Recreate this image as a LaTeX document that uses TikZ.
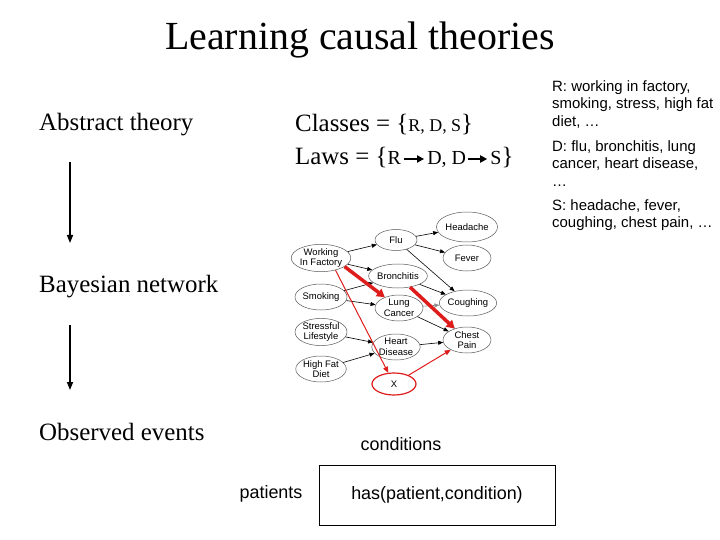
\documentclass[tikz,border=0pt]{standalone}
\usepackage{fontspec}
\setmainfont{Liberation Serif}
\setsansfont{Liberation Sans}
\usetikzlibrary{arrows.meta,shapes.geometric,positioning}
\definecolor{causered}{RGB}{222,28,28}
\newcommand{\smallcls}[1]{{\fontsize{18}{18}\selectfont #1}}
\newcommand{\lawcls}[1]{{\fontsize{20}{20}\selectfont #1}}

\begin{document}
\begin{tikzpicture}[x=1bp, y=-1bp,
	bn/.style={ellipse, draw=black!65, line width=0.5bp, minimum width=48bp, minimum height=26bp, inner sep=0pt, align=center, font=\sffamily\fontsize{9.5}{10.5}\selectfont},
	dep/.style={-{Triangle[length=5bp,width=4bp]}, line width=0.6bp},
	strong/.style={causered, line width=3.5bp, -{Triangle[length=8bp,width=9bp]}},
	hidden/.style={causered, line width=1bp, -{Triangle[length=6bp,width=5bp]}},
	level/.style={anchor=base west, inner sep=0pt, font=\fontsize{25}{30}\selectfont},
	flow/.style={line width=1.5bp, -{Triangle[length=8bp,width=6bp]}},
	lawarr/.style={line width=2bp, -{Triangle[length=7bp,width=7bp]}},
	note/.style={anchor=north west, inner sep=0pt, align=left, font=\sffamily\fontsize{15}{18}\selectfont},
	obs/.style={inner sep=0pt, font=\sffamily\fontsize{18}{22}\selectfont}]
	\useasboundingbox (0,0) rectangle (720,540);
	\node[anchor=base, inner sep=0pt, font=\fontsize{40}{48}\selectfont] (title) at (360,50) {Learning causal theories};
	\node[level] (abstract) at (39,131) {Abstract theory};
	\node[level] (bayes) at (39,292) {Bayesian network};
	\node[level] (events) at (39,440) {Observed events};
	\coordinate (a1) at (70,162);
	\coordinate (a2) at (70,243);
	\coordinate (b1) at (70,325);
	\coordinate (b2) at (70,390);
	\draw[flow] (a1) -- (a2);
	\draw[flow] (b1) -- (b2);
	\node[level] (classes) at (295,132) {Classes = \{\smallcls{R, D, S}\}};
	\node[level] (laws) at (295,165) {Laws = \{\lawcls{R}};
	\node[level, right=26bp of laws.base east, anchor=base west] (lawsd) {\lawcls{D, D}};
	\node[level, right=24bp of lawsd.base east, anchor=base west] (lawss) {\lawcls{S}\}};
	\draw[lawarr] ([shift={(3bp,6bp)}]laws.base east) -- ([shift={(-3bp,6bp)}]lawsd.base west);
	\draw[lawarr] ([shift={(2bp,6bp)}]lawsd.base east) -- ([shift={(-3bp,6bp)}]lawss.base west);
	\node[note] (rnote) at (552,80) {R: working in factory,\\smoking, stress, high fat\\diet, \dots};
	\node[note] (dnote) at (552,140) {D: flu, bronchitis, lung\\cancer, heart disease,\\\dots};
	\node[note] (snote) at (552,199) {S: headache, fever,\\coughing, chest pain, \dots};
	\node[bn] (wif) at (321,258) {Working\\In Factory};
	\node[bn] (smok) at (321,297) {Smoking};
	\node[bn] (stress) at (321,332) {Stressful\\Lifestyle};
	\node[bn] (fat) at (321,369) {High Fat\\Diet};
	\node[bn, minimum width=42bp, minimum height=21bp] (flu) at (396,240) {Flu};
	\node[bn, minimum height=24bp] (bron) at (398,276) {Bronchitis};
	\node[bn] (lung) at (399,308) {Lung\\Cancer};
	\node[bn] (heart) at (396,347) {Heart\\Disease};
	\node[bn, draw=causered, line width=1.2bp, minimum width=44bp, minimum height=22bp] (xx) at (394,384) {X};
	\node[bn, minimum width=51bp, minimum height=30bp] (head) at (467,227) {Headache};
	\node[bn] (fever) at (467,258) {Fever};
	\node[bn] (cough) at (468,303) {Coughing};
	\node[bn] (chest) at (467,340) {Chest\\Pain};
	\foreach \a/\b in {wif/flu, wif/bron, smok/bron, smok/lung, stress/heart, fat/heart, flu/head, flu/fever, flu/cough, bron/cough, bron/chest, lung/chest, heart/chest}
		\draw[dep] (\a) -- (\b);
	\draw[dep, black!45] (lung) -- (cough);
	\draw[strong] (wif.-20) -- (lung);
	\draw[strong] (bron) -- (chest);
	\draw[hidden] (wif.-40) -- (xx);
	\draw[hidden] (xx) -- (chest);
	\node[obs] (cond) at (401,444) {conditions};
	\node[obs] (pat) at (271,494) {patients};
	\node[obs, draw, line width=0.8bp, minimum width=236bp, minimum height=60bp] (has) at (437,495) {has(patient,condition)};
\end{tikzpicture}
\end{document}
